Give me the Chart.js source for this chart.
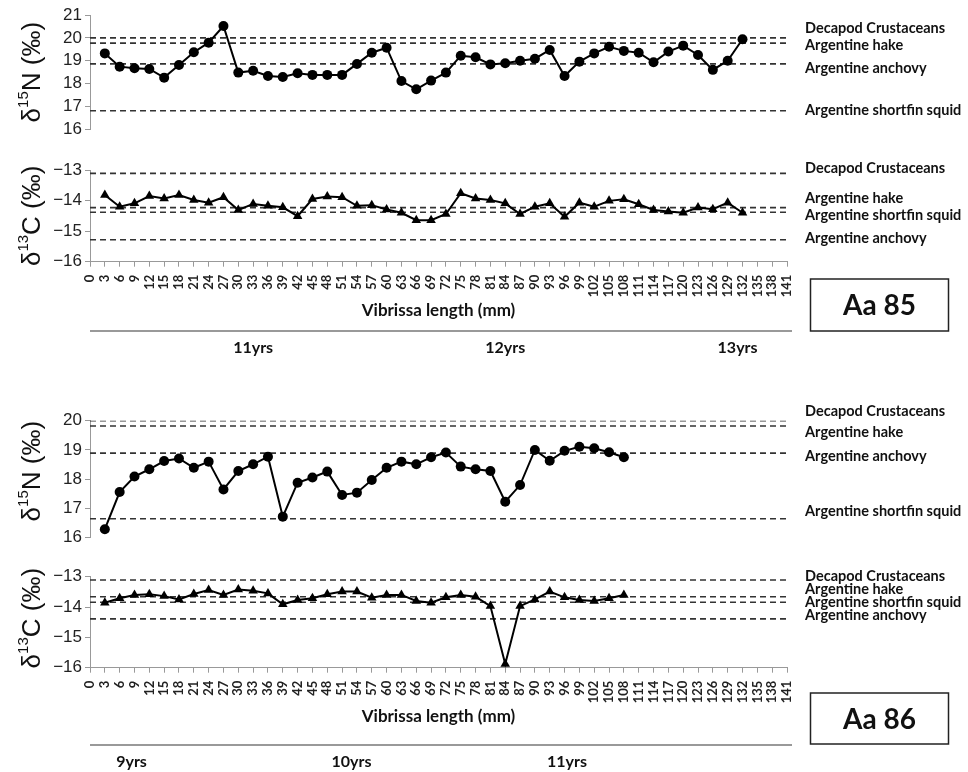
<!DOCTYPE html>
<html><head><meta charset="utf-8">
<script src="https://cdn.jsdelivr.net/npm/chart.js@4.4.1/dist/chart.umd.min.js"></script>
<style>
html,body{margin:0;padding:0;background:#fff;}
#wrap{position:relative;width:968px;height:772px;overflow:hidden;background:#fff;}
#wrap canvas{position:absolute;left:0;top:0;}
</style></head>
<body><div id="wrap">
<canvas id="n85" width="968" height="772"></canvas>
<canvas id="c85" width="968" height="772"></canvas>
<canvas id="n86" width="968" height="772"></canvas>
<canvas id="c86" width="968" height="772"></canvas>
</div>
<script>
// ---------- data ----------
const lengthTicks = [0,3,6,9,12,15,18,21,24,27,30,33,36,39,42,45,48,51,54,57,60,63,66,69,72,75,78,81,84,87,90,93,96,99,102,105,108,111,114,117,120,123,126,129,132,135,138,141];

const specimenIds = ['Aa 85','Aa 86'];

const mmAa85 = [3,6,9,12,15,18,21,24,27,30,33,36,39,42,45,48,51,54,57,60,63,66,69,72,75,78,81,84,87,90,93,96,99,102,105,108,111,114,117,120,123,126,129,132];
const d15N_Aa85 = [19.32,18.74,18.67,18.64,18.26,18.81,19.37,19.79,20.52,18.48,18.56,18.33,18.29,18.45,18.38,18.38,18.38,18.86,19.35,19.57,18.11,17.75,18.13,18.48,19.22,19.15,18.84,18.89,19.00,19.09,19.47,18.33,18.96,19.32,19.61,19.43,19.35,18.93,19.40,19.66,19.25,18.60,19.00,19.94];
const d13C_Aa85 = [-13.82,-14.20,-14.09,-13.85,-13.93,-13.82,-13.98,-14.07,-13.89,-14.31,-14.11,-14.17,-14.22,-14.51,-13.95,-13.87,-13.89,-14.17,-14.15,-14.29,-14.40,-14.64,-14.64,-14.44,-13.76,-13.93,-13.98,-14.09,-14.44,-14.20,-14.09,-14.53,-14.07,-14.20,-14.01,-13.96,-14.12,-14.31,-14.36,-14.40,-14.23,-14.28,-14.07,-14.40];

const mmAa86 = [3,6,9,12,15,18,21,24,27,30,33,36,39,42,45,48,51,54,57,60,63,66,69,72,75,78,81,84,87,90,93,96,99,102,105,108];
const d15N_Aa86 = [16.29,17.56,18.09,18.34,18.62,18.71,18.39,18.60,17.65,18.28,18.51,18.77,16.72,17.88,18.06,18.26,17.46,17.54,17.97,18.39,18.60,18.51,18.75,18.91,18.43,18.34,18.28,17.23,17.80,19.00,18.63,18.97,19.11,19.06,18.92,18.75];
const d13C_Aa86 = [-13.86,-13.71,-13.60,-13.58,-13.64,-13.75,-13.57,-13.44,-13.60,-13.42,-13.46,-13.55,-13.91,-13.77,-13.71,-13.58,-13.49,-13.49,-13.69,-13.60,-13.60,-13.80,-13.86,-13.68,-13.60,-13.66,-13.97,-15.88,-13.97,-13.75,-13.49,-13.68,-13.77,-13.80,-13.71,-13.60];

const preyNames = ['Decapod Crustaceans','Argentine hake','Argentine anchovy','Argentine shortfin squid'];
const prey15N_Aa85 = [20.00,19.77,18.86,16.81];
const prey13C_Aa85 = [-13.11,-14.23,-15.28,-14.38];
const prey15N_Aa86 = [20.00,19.82,18.89,16.65];
const prey13C_Aa86 = [-13.11,-13.66,-14.39,-13.84];

const yearLabels_Aa85 = ['11yrs','12yrs','13yrs'];
const yearAt_Aa85 = [33,84,131];
const yearLabels_Aa86 = ['9yrs','10yrs','11yrs'];
const yearAt_Aa86 = [8.4,52.9,96.5];

// ---------- drawing ----------
const SANS = '"Liberation Sans", Arial, sans-serif';
const HUM = 'Lato, "Open Sans", sans-serif';
const XH = 59;

const decor = {
  id: 'panelDecor',
  afterDraw(chart, args, o) {
    const ctx = chart.ctx, a = chart.chartArea, ys = chart.scales.y, xs = chart.scales.x;
    // y-axis title with superscript
    ctx.save();
    const cy = (a.top + a.bottom) / 2 + (o.titleShift || 0);
    ctx.translate(30, cy);
    ctx.rotate(-Math.PI / 2);
    const big = '26px ' + SANS, small = '15px ' + SANS;
    ctx.font = big; const w1 = ctx.measureText('δ').width; const w3 = ctx.measureText(o.tail).width;
    ctx.font = small; const w2 = ctx.measureText(o.sup).width;
    let sx = -(w1 + w2 + w3) / 2;
    ctx.fillStyle = '#111'; ctx.textBaseline = 'alphabetic'; ctx.textAlign = 'left';
    ctx.font = big; ctx.fillText('δ', sx, 10); sx += w1;
    ctx.font = small; ctx.fillText(o.sup, sx, -2.5); sx += w2;
    ctx.font = big; ctx.fillText(o.tail, sx, 10);
    ctx.restore();

    // prey labels
    ctx.save();
    ctx.font = 'bold 14.5px ' + HUM; ctx.fillStyle = '#111';
    ctx.textBaseline = 'middle'; ctx.textAlign = 'left';
    o.names.forEach((n, i) => ctx.fillText(n, 805, ys.getPixelForValue(o.values[i]) + o.offsets[i]));
    ctx.restore();

    // years row + specimen box
    if (o.years) {
      ctx.save();
      ctx.strokeStyle = '#999'; ctx.lineWidth = 2;
      ctx.beginPath(); ctx.moveTo(90, o.sepY); ctx.lineTo(792, o.sepY); ctx.stroke();
      ctx.font = 'bold 16px ' + HUM; ctx.fillStyle = '#111';
      ctx.textAlign = 'center'; ctx.textBaseline = 'middle';
      o.years.forEach((t, i) => ctx.fillText(t, xs.getPixelForValue(o.yearAt[i]), o.yearY));
      ctx.strokeStyle = '#222'; ctx.lineWidth = 1.5;
      ctx.strokeRect(o.box[0], o.box[1], o.box[2], o.box[3]);
      ctx.font = 'bold 28px ' + HUM;
      ctx.fillText(o.boxText, o.box[0] + o.box[2] / 2, o.box[1] + o.box[3] / 2 + 1);
      ctx.restore();
    }
  }
};

function makePanel(id, p) {
  const datasets = [{
    data: p.xs.map((x, i) => ({x: x, y: p.ys[i]})),
    borderColor: '#000', backgroundColor: '#000', borderWidth: 2,
    pointStyle: p.pointStyle, pointRadius: p.pr, pointBorderWidth: 0,
    pointBackgroundColor: '#000', tension: 0, clip: false
  }];
  p.prey.forEach(v => datasets.push({
    data: [{x: 0, y: v}, {x: 141, y: v}],
    borderColor: '#333', borderWidth: 1.6, borderDash: [6, 4], pointRadius: 0
  }));
  const pad = {left: 40, right: 181, top: p.top, bottom: 772 - p.bottom - (p.hasX ? XH : 0)};
  new Chart(document.getElementById(id), {
    type: 'line',
    data: {datasets: datasets},
    options: {
      responsive: false, animation: false, events: [],
      layout: {padding: pad},
      plugins: {
        legend: {display: false}, tooltip: {enabled: false},
        panelDecor: p.decor
      },
      scales: {
        x: {
          type: 'linear', min: 0, max: 141, display: p.hasX,
          afterBuildTicks: s => { s.ticks = lengthTicks.map(v => ({value: v})); },
          afterFit: s => { s.height = p.hasX ? XH : 0; },
          ticks: {autoSkip: false, minRotation: 90, maxRotation: 90, padding: 8,
                  font: {family: HUM, size: 13, weight: 'bold'}, color: '#222'},
          grid: {drawOnChartArea: false, drawTicks: true, tickLength: 5, color: '#999'},
          border: {color: '#999', width: 1},
          title: {display: true, text: 'Vibrissa length (mm)', color: '#111',
                  font: {family: HUM, size: 17, weight: 'bold'}, padding: {top: 0, bottom: 0}}
        },
        y: {
          min: p.ymin, max: p.ymax,
          afterFit: s => { s.width = 50; },
          ticks: {stepSize: 1, autoSkip: false, padding: 3, color: '#222', font: {family: SANS, size: 17},
                  callback: v => String(v).replace('-', '\u2212')},
          grid: {drawOnChartArea: false, drawTicks: true, tickLength: 5, color: '#999'},
          border: {color: '#999', width: 1}
        }
      }
    },
    plugins: [decor]
  });
}

makePanel('n85', {
  xs: mmAa85, ys: d15N_Aa85, pointStyle: 'circle', pr: 5, prey: prey15N_Aa85,
  ymin: 16, ymax: 21, top: 15, bottom: 129.3, hasX: false,
  decor: {sup: '15', tail: 'N (‰)', names: preyNames, values: prey15N_Aa85, offsets: [-10, 2, 4, 0]}
});
makePanel('c85', {
  xs: mmAa85, ys: d13C_Aa85, pointStyle: 'triangle', pr: 5.5, prey: prey13C_Aa85,
  ymin: -16, ymax: -13, top: 170, bottom: 261.7, hasX: true,
  decor: {sup: '13', tail: 'C (‰)', names: preyNames, values: prey13C_Aa85, offsets: [-5, -9, -1, 3],
          years: yearLabels_Aa85, yearAt: yearAt_Aa85, sepY: 331, yearY: 348,
          box: [810.5, 279, 138, 52], boxText: specimenIds[0]}
});
makePanel('n86', {
  xs: mmAa86, ys: d15N_Aa86, pointStyle: 'circle', pr: 5, prey: prey15N_Aa86,
  ymin: 16, ymax: 20, top: 420.7, bottom: 537.7, hasX: false,
  decor: {sup: '15', tail: 'N (‰)', names: preyNames, values: prey15N_Aa86, offsets: [-9, 6, 3, -7], titleShift: -8}
});
makePanel('c86', {
  xs: mmAa86, ys: d13C_Aa86, pointStyle: 'triangle', pr: 5.5, prey: prey13C_Aa86,
  ymin: -16, ymax: -13, top: 576.7, bottom: 667.7, hasX: true,
  decor: {sup: '13', tail: 'C (‰)', names: preyNames, values: prey13C_Aa86, offsets: [-4, -7, -4, 0], titleShift: -4,
          years: yearLabels_Aa86, yearAt: yearAt_Aa86, sepY: 745, yearY: 762,
          box: [810.5, 693, 138, 51], boxText: specimenIds[1]}
});
</script>
</body></html>
